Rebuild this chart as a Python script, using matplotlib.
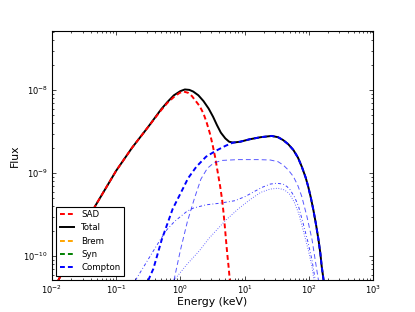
import numpy as np
import matplotlib
matplotlib.use("Agg")
import matplotlib.pyplot as plt

plt.rcParams['axes.unicode_minus'] = False
plt.rcParams['lines.scale_dashes'] = False

# valores (log10 da energia em keV e log10 do fluxo)
total_logE = [-1.90, -1.60, -1.33, -1.00, -0.75, -0.50, -0.30, -0.20, -0.10, 0.00, 0.07, 0.14,
              0.20, 0.28, 0.36, 0.44, 0.51, 0.57, 0.63, 0.70, 0.76, 0.82, 0.93, 1.08, 1.25,
              1.42, 1.52, 1.60, 1.68, 1.76, 1.83, 1.89, 1.95, 1.99, 2.03, 2.07, 2.11, 2.15,
              2.18, 2.20, 2.23]
total_logF = [-10.29, -9.84, -9.40, -8.97, -8.69, -8.44, -8.23, -8.14, -8.06, -8.01, -7.99, -7.995,
              -8.015, -8.06, -8.13, -8.22, -8.32, -8.42, -8.51, -8.58, -8.62, -8.63, -8.62, -8.59, -8.565,
              -8.55, -8.565, -8.60, -8.65, -8.72, -8.81, -8.92, -9.05, -9.16, -9.29, -9.44, -9.61, -9.80,
              -9.97, -10.12, -10.29]

sad_logE = [-1.90, -1.60, -1.33, -1.00, -0.75, -0.50, -0.30, -0.20, -0.10, -0.01, 0.05, 0.12,
            0.18, 0.23, 0.30, 0.36, 0.41, 0.46, 0.50, 0.54, 0.58, 0.62, 0.65, 0.67, 0.69,
            0.71, 0.73, 0.75, 0.77]
sad_logF = [-10.29, -9.84, -9.40, -8.97, -8.69, -8.44, -8.24, -8.15, -8.08, -8.03, -8.015, -8.03,
            -8.07, -8.12, -8.19, -8.28, -8.39, -8.52, -8.65, -8.80, -8.98, -9.16, -9.32, -9.46, -9.62,
            -9.80, -9.97, -10.12, -10.29]

comp_logE = [-0.50, -0.42, -0.29, -0.12, 0.03, 0.12, 0.25, 0.40, 0.55, 0.70, 0.82, 0.93,
             1.08, 1.25, 1.42, 1.52, 1.60, 1.68, 1.76, 1.83, 1.89, 1.95, 1.99, 2.03, 2.07,
             2.11, 2.15, 2.18, 2.20, 2.23]
comp_logF = [-10.29, -10.15, -9.80, -9.43, -9.20, -9.06, -8.92, -8.80, -8.73, -8.67, -8.63, -8.62,
             -8.59, -8.565, -8.55, -8.565, -8.60, -8.65, -8.72, -8.81, -8.92, -9.05, -9.16, -9.29, -9.44,
             -9.61, -9.80, -9.97, -10.12, -10.29]

# componentes do Compton (linhas finas)
c1_logE = [-0.10, 0.00, 0.11, 0.22, 0.32, 0.42, 0.52, 0.65, 0.90, 1.20, 1.40, 1.52, 1.60,
           1.68, 1.76, 1.83, 1.89, 1.97, 2.05, 2.10, 2.15]
c1_logF = [-10.29, -9.93, -9.58, -9.30, -9.07, -8.94, -8.875, -8.845, -8.835, -8.835, -8.84, -8.86, -8.90,
           -8.96, -9.04, -9.15, -9.28, -9.52, -9.80, -10.05, -10.29]

c2_logE = [-0.70, -0.55, -0.44, -0.32, -0.21, -0.09, 0.02, 0.10, 0.20, 0.40, 0.62, 0.85,
           1.01, 1.15, 1.27, 1.40, 1.50, 1.60, 1.66, 1.71, 1.78, 1.84, 1.91, 1.99, 2.05, 2.10]
c2_logF = [-10.29, -10.10, -9.96, -9.81, -9.68, -9.58, -9.51, -9.46, -9.42, -9.38, -9.36, -9.33,
           -9.28, -9.22, -9.17, -9.13, -9.12, -9.13, -9.16, -9.20, -9.29, -9.40, -9.60, -9.84, -10.05, -10.29]

c3_logE = [-0.10, 0.10, 0.30, 0.45, 0.70, 0.90, 1.08, 1.25, 1.40, 1.52, 1.62, 1.67, 1.71,
           1.78, 1.84, 1.91, 1.99, 2.05, 2.08]
c3_logF = [-10.29, -10.10, -9.93, -9.78, -9.57, -9.43, -9.32, -9.23, -9.19, -9.18, -9.20, -9.23, -9.26,
           -9.36, -9.48, -9.68, -9.92, -10.13, -10.29]

# Brem e Syn ficam fora da escala do grafico
brem_E, brem_F = [], []
syn_E, syn_F = [], []

fig = plt.figure(figsize=(4.15, 3.12), dpi=100)
ax = fig.add_axes([0.125, 0.1026, 0.774, 0.798])

def p(v):
    return 10 ** np.array(v, dtype=float)

tr = (3.5, 2.2)  # tracejado
l_tot, = ax.plot(p(total_logE), p(total_logF), color='k', lw=1.4, label='Total')
l_sad, = ax.plot(p(sad_logE), p(sad_logF), color='r', lw=1.4, ls='--', dashes=tr, label='SAD')
l_brem, = ax.plot(brem_E, brem_F, color='orange', lw=1.4, ls='--', dashes=tr, label='Brem')
l_syn, = ax.plot(syn_E, syn_F, color='g', lw=1.4, ls='--', dashes=tr, label='Syn')
l_comp, = ax.plot(p(comp_logE), p(comp_logF), color='b', lw=1.4, ls='--', dashes=tr, label='Compton')
ax.plot(p(c1_logE), p(c1_logF), color='b', lw=0.7, alpha=0.65, ls='--', dashes=tr)
ax.plot(p(c2_logE), p(c2_logF), color='b', lw=0.7, alpha=0.75, dashes=(2.2, 1.6, 0.6, 1.6))
ax.plot(p(c3_logE), p(c3_logF), color='b', lw=0.7, alpha=0.65, dashes=(0.6, 1.2))

ax.set_xscale('log')
ax.set_yscale('log')
ax.set_xlim(1e-2, 1e3)
ax.set_ylim(5.18e-11, 5.18e-8)

ax.tick_params(which='both', direction='in', top=True, right=True, labelsize=6, width=0.5)
ax.tick_params(which='major', length=2.8)
ax.tick_params(axis='x', which='both', pad=2.5)
ax.tick_params(axis='y', which='both', pad=3)
ax.tick_params(which='minor', length=1.4)
for s in ax.spines.values():
    s.set_linewidth(0.8)

ax.set_xlabel('Energy (keV)', fontsize=7.8, labelpad=1)
ax.set_ylabel('Flux', fontsize=7.8, labelpad=2)

leg = ax.legend([l_sad, l_tot, l_brem, l_syn, l_comp], ['SAD', 'Total', 'Brem', 'Syn', 'Compton'],
                loc='lower left', fontsize=6.2, fancybox=False, framealpha=1, edgecolor='k',
                handlelength=1.7, handletextpad=0.8, labelspacing=0.5, borderpad=0.4,
                borderaxespad=0.5)
leg.get_frame().set_linewidth(0.8)

fig.savefig('out.png', dpi=100, facecolor='white')
